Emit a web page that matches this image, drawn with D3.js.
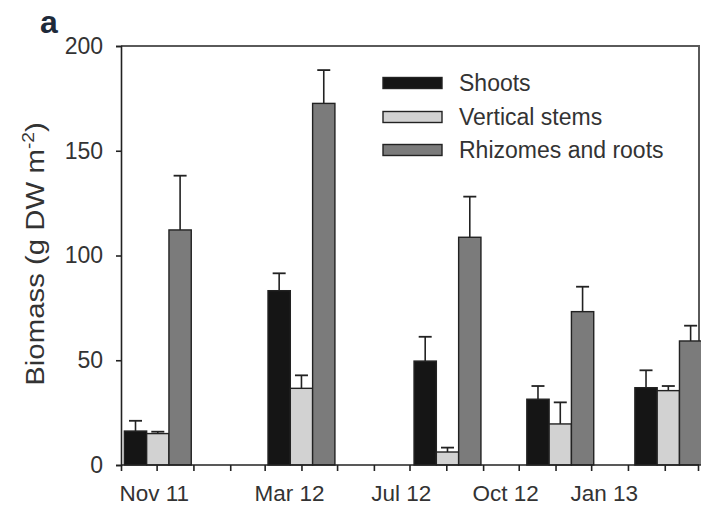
<!DOCTYPE html>
<html>
<head>
<meta charset="utf-8">
<script src="https://cdn.jsdelivr.net/npm/d3@7"></script>
<style>
  html, body { margin: 0; padding: 0; background: #fff; }
  svg { display: block; font-family: "Liberation Sans", Arial, sans-serif; }
</style>
</head>
<body>
<svg id="chart" width="701" height="506"></svg>
<script>
// Sampling campaigns (group centre dates) and their axis labels
const sampleDates = ["2011-12-02", "2012-04-01", "2012-08-02", "2012-11-05", "2013-02-04"];
const sampleLabels = ["Nov 11", "Mar 12", "Jul 12", "Oct 12", "Jan 13"];
const labelDates = ["2011-11-29", "2012-03-22", "2012-06-24", "2012-09-20", "2012-12-12"];

// Biomass components
const seriesNames = ["Shoots", "Vertical stems", "Rhizomes and roots"];
const seriesColors = ["#151515", "#d2d2d2", "#7b7b7b"];

// Mean biomass (g DW m-2) per campaign
const shoots = [16.2, 83.2, 49.6, 31.4, 36.9];
const stems = [15.0, 36.6, 6.2, 19.6, 35.5];
const rhizomes = [112.2, 172.6, 108.7, 73.2, 59.2];

// Upper end of the error bar (mean + SE)
const shootsErr = [21.1, 91.5, 61.2, 37.7, 45.2];
const stemsErr = [15.9, 42.8, 8.3, 29.9, 37.7];
const rhizomesErr = [138.1, 188.5, 128.1, 85.1, 66.5];

const yTicks = [0, 50, 100, 150, 200];

const parse = d3.utcParse("%Y-%m-%d");
const values = [shoots, stems, rhizomes];
const errs = [shootsErr, stemsErr, rhizomesErr];

const svg = d3.select("#chart");
const plotLeft = 121, plotRight = 698, plotTop = 46, plotBottom = 465;

const x = d3.scaleUtc()
  .domain([parse("2011-11-01"), parse("2013-03-01")])
  .range([plotLeft, plotRight]);
const y = d3.scaleLinear().domain([0, 200]).range([plotBottom, plotTop]);

const barW = 22.3;

// frame (top and right)
svg.append("path")
  .attr("d", `M${plotLeft},${plotTop}H${plotRight + 1}V${plotBottom}`)
  .attr("fill", "none")
  .attr("stroke", "#5a5a5a")
  .attr("stroke-width", 2);

// bars + error bars
const groups = svg.append("g");
sampleDates.forEach((ds, gi) => {
  const cx = x(parse(ds));
  values.forEach((vals, si) => {
    const x0 = cx + (si - 1.5) * barW;
    const v = vals[gi];
    const e = errs[si][gi];
    const xc = x0 + barW / 2;
    groups.append("line")
      .attr("x1", xc).attr("x2", xc)
      .attr("y1", y(v)).attr("y2", y(e))
      .attr("stroke", "#222").attr("stroke-width", 1.6);
    groups.append("line")
      .attr("x1", xc - 6.5).attr("x2", xc + 6.5)
      .attr("y1", y(e)).attr("y2", y(e))
      .attr("stroke", "#222").attr("stroke-width", 1.8);
    groups.append("rect")
      .attr("x", x0).attr("width", barW)
      .attr("y", y(v)).attr("height", y(0) - y(v))
      .attr("fill", seriesColors[si])
      .attr("stroke", "#222").attr("stroke-width", 1.4);
  });
});

// y axis
const yAxis = svg.append("g")
  .attr("transform", `translate(${plotLeft},0)`)
  .call(d3.axisLeft(y).tickValues(yTicks).tickSize(5).tickPadding(13));
yAxis.select(".domain").attr("stroke", "#222").attr("stroke-width", 1.6);
yAxis.selectAll(".tick line").attr("stroke", "#222").attr("stroke-width", 1.6);
yAxis.selectAll(".tick text")
  .attr("font-size", 23).attr("fill", "#333")
  .attr("font-family", "Liberation Sans, Arial, sans-serif");

// x axis: monthly ticks, labels placed under campaigns
const xAxis = svg.append("g")
  .attr("transform", `translate(0,${plotBottom})`)
  .call(d3.axisBottom(x).ticks(d3.utcMonth.every(1)).tickSize(6).tickFormat(""));
xAxis.select(".domain").attr("stroke", "#222").attr("stroke-width", 1.6)
  .attr("d", `M${plotLeft},0H${plotRight + 1}`);
xAxis.selectAll(".tick line").attr("stroke", "#222").attr("stroke-width", 1.6);

svg.append("g").selectAll("text")
  .data(sampleLabels)
  .join("text")
  .attr("x", (d, i) => x(parse(labelDates[i])))
  .attr("y", 501)
  .attr("text-anchor", "middle")
  .attr("font-size", 22.5)
  .attr("fill", "#333")
  .text(d => d);

// y axis title
const yt = svg.append("text")
  .attr("transform", `translate(44,254) rotate(-90) scale(1.13,1)`)
  .attr("text-anchor", "middle")
  .attr("font-size", 26)
  .attr("fill", "#333");
yt.append("tspan").text("Biomass (g DW m");
yt.append("tspan").attr("font-size", 17).attr("dy", -10).text("-2");
yt.append("tspan").attr("dy", 10).text(")");

// panel letter
svg.append("text")
  .attr("x", 40).attr("y", 33)
  .attr("font-size", 32).attr("font-weight", "bold")
  .attr("fill", "#1e2a3a")
  .text("a");

// legend
const legend = svg.append("g");
const legendRows = [83, 117, 150];
seriesNames.forEach((name, i) => {
  legend.append("rect")
    .attr("x", 383).attr("y", legendRows[i] - 5.5)
    .attr("width", 59).attr("height", 11)
    .attr("fill", seriesColors[i])
    .attr("stroke", "#222").attr("stroke-width", 1.4);
  legend.append("text")
    .attr("x", 459).attr("y", legendRows[i] + 8)
    .attr("font-size", 23).attr("fill", "#333")
    .text(name);
});
</script>
</body>
</html>
